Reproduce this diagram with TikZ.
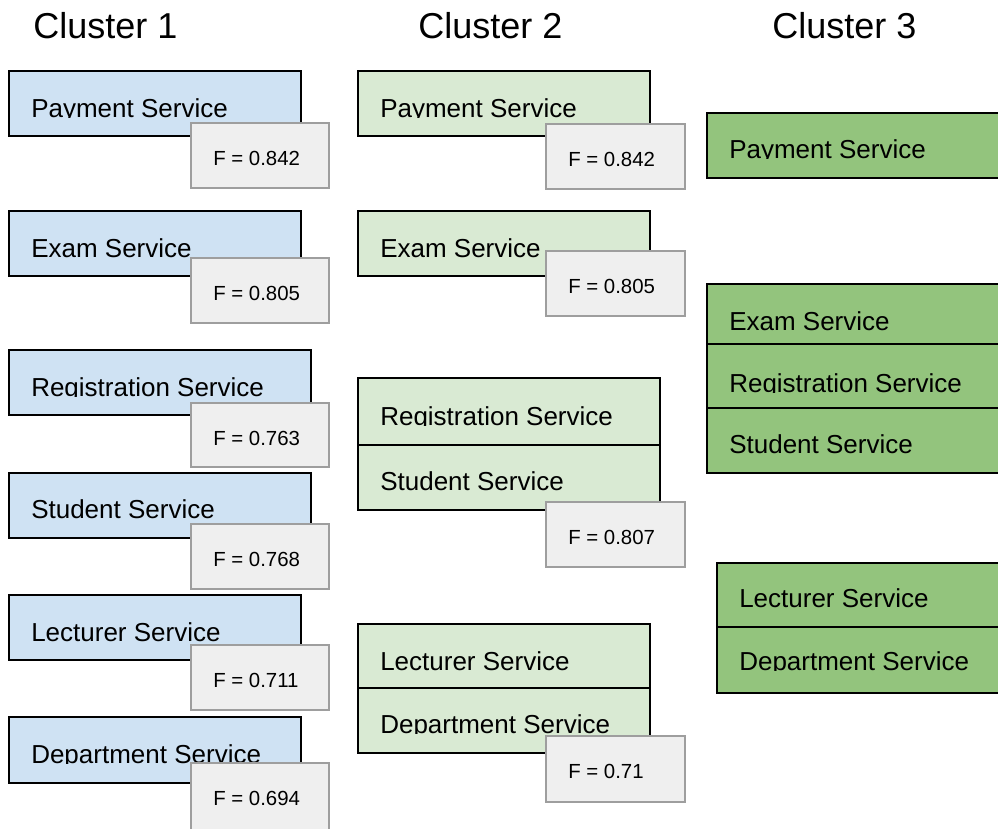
\documentclass[tikz,border=0pt]{standalone}
\usepackage{fontspec}
\setmainfont{Liberation Sans}
\definecolor{blueFill}{HTML}{CFE2F3}
\definecolor{paleGreen}{HTML}{D9EAD3}
\definecolor{midGreen}{HTML}{93C47D}
\definecolor{scoreFill}{HTML}{EFEFEF}
\definecolor{scoreLine}{HTML}{9E9E9E}
\tikzset{
  svcA/.style={draw=black, line width=1.1pt, fill=blueFill},
  svcB/.style={draw=black, line width=1.1pt, fill=paleGreen},
  svcC/.style={draw=black, line width=1.1pt, fill=midGreen},
  divider/.style={draw=black, line width=1.1pt},
  scorebox/.style={draw=scoreLine, line width=1.5pt, fill=scoreFill},
  svtext/.style={inner sep=0pt, anchor=base west, font=\fontsize{19.5}{22}\selectfont},
  sctext/.style={inner sep=0pt, anchor=base west, font=\fontsize{15.3}{18}\selectfont},
  ttext/.style={inner sep=0pt, anchor=base west, font=\fontsize{27}{30}\selectfont}
}
% service label, cut off at its baseline: name, x, baseline y, text
\newcommand{\svlabel}[4]{%
  \begin{scope}
    \clip (#2-2,#3) rectangle (#2+320,#3-40);
    \node[svtext] (#1) at (#2,#3) {#4};
  \end{scope}}
% score box: name, left, top, right, bottom, text
\newcommand{\scorelabel}[6]{%
  \path[scorebox] (#2,#3) rectangle (#4,#5);
  \node[sctext] (#1) at (#2+22,#3+42) {#6};}
\begin{document}
\begin{tikzpicture}[x=0.75pt, y=-0.75pt]
\useasboundingbox (0,0) rectangle (998,828);
\clip (0,0) rectangle (998,828);
\fill[white] (0,0) rectangle (998,828);

% column titles
\node[ttext] (t1) at (33,38) {Cluster 1};
\node[ttext] (t2) at (418,38) {Cluster 2};
\node[ttext] (t3) at (772,38) {Cluster 3};

% ---- Cluster 1 ----
\path[svcA] (9,71) rectangle (301,136);
\svlabel{a1}{31}{117}{Payment Service}
\scorelabel{fa1}{191}{123}{329}{188}{F = 0.842}

\path[svcA] (9,211) rectangle (301,276);
\svlabel{a2}{31}{257}{Exam Service}
\scorelabel{fa2}{191}{258}{329}{323}{F = 0.805}

\path[svcA] (9,350) rectangle (311,415);
\svlabel{a3}{31}{396}{Registration Service}
\scorelabel{fa3}{191}{403}{329}{467}{F = 0.763}

\path[svcA] (9,473) rectangle (311,538);
\svlabel{a4}{31}{518}{Student Service}
\scorelabel{fa4}{191}{524}{329}{589}{F = 0.768}

\path[svcA] (9,595) rectangle (301,660);
\svlabel{a5}{31}{641}{Lecturer Service}
\scorelabel{fa5}{191}{645}{329}{710}{F = 0.711}

\path[svcA] (9,717) rectangle (301,783);
\svlabel{a6}{31}{763}{Department Service}
\scorelabel{fa6}{191}{763}{329}{840}{F = 0.694}

% ---- Cluster 2 ----
\path[svcB] (358,71) rectangle (650,136);
\svlabel{b1}{380}{117}{Payment Service}
\scorelabel{fb1}{546}{124}{685}{189}{F = 0.842}

\path[svcB] (358,211) rectangle (650,276);
\svlabel{b2}{380}{257}{Exam Service}
\scorelabel{fb2}{546}{251}{685}{316}{F = 0.805}

\path[svcB] (358,378) rectangle (660,510);
\draw[divider] (358,445) -- (660,445);
\svlabel{b3}{380}{425}{Registration Service}
\svlabel{b4}{380}{490}{Student Service}
\scorelabel{fb3}{546}{502}{685}{567}{F = 0.807}

\path[svcB] (358,624) rectangle (650,753);
\draw[divider] (358,688) -- (650,688);
\svlabel{b5}{380}{670}{Lecturer Service}
\svlabel{b6}{380}{733}{Department Service}
\scorelabel{fb4}{546}{736}{685}{802}{F = 0.71}

% ---- Cluster 3 ----
\path[svcC] (707,113) rectangle (1010,178);
\svlabel{c1}{729}{158}{Payment Service}

\path[svcC] (707,284) rectangle (1010,473);
\draw[divider] (707,344) -- (1010,344);
\draw[divider] (707,408) -- (1010,408);
\svlabel{c2}{729}{330}{Exam Service}
\svlabel{c3}{729}{392}{Registration Service}
\svlabel{c4}{729}{453}{Student Service}

\path[svcC] (717,563) rectangle (1010,693);
\draw[divider] (717,627) -- (1010,627);
\svlabel{c5}{739}{607}{Lecturer Service}
\svlabel{c6}{739}{670}{Department Service}
\end{tikzpicture}
\end{document}
